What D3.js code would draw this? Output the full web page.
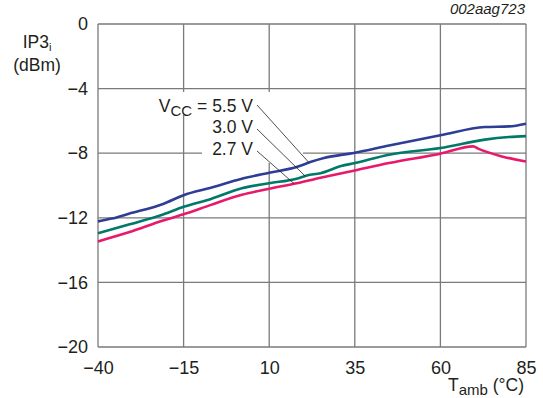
<!DOCTYPE html>
<html><head><meta charset="utf-8">
<script src="https://cdn.jsdelivr.net/npm/d3@7"></script>
<style>
body{margin:0;background:#fff}
text{font-family:"Liberation Sans",Arial,Helvetica,sans-serif;fill:#231f20}
</style>
</head><body>
<svg id="chart" width="543" height="398"></svg>
<script>
// Axis ticks
const xTicks = [-40, -15, 10, 35, 60, 85];
const yTicks = [0, -4, -8, -12, -16, -20];

// IP3i versus ambient temperature for three supply voltages
const temp55 = [-40, -36, -31, -21, -15, -7, 2, 10, 18, 22, 26, 35, 45, 60, 73, 80, 85];
const ip55   = [-12.22, -12.05, -11.75, -11.14, -10.6, -10.14, -9.58, -9.21, -8.86, -8.55, -8.30, -7.97, -7.52, -6.89, -6.38, -6.34, -6.17];

const temp30 = [-40, -31, -21, -15, -7, 2, 10, 18, 21, 25, 31, 35, 45, 60, 73, 80, 85];
const ip30   = [-12.96, -12.42, -11.80, -11.32, -10.83, -10.17, -9.86, -9.58, -9.38, -9.24, -8.80, -8.61, -8.09, -7.68, -7.16, -7.00, -6.94];

const temp27 = [-40, -31, -21, -15, -7, 2, 10, 18, 26, 35, 45, 60, 69.6, 71, 78, 85];
const ip27   = [-13.46, -12.90, -12.17, -11.78, -11.20, -10.58, -10.20, -9.86, -9.48, -9.07, -8.61, -8.03, -7.58, -7.72, -8.20, -8.51];

const seriesLabels = ["5.5 V", "3.0 V", "2.7 V"];
const seriesColors = ["#2e3d96", "#00796b", "#e8196b"];
// temperature where each label's leader line meets its curve
const leaderTemps = [21.6, 20.5, 17.3];

const series = [
  {temps: temp55, vals: ip55},
  {temps: temp30, vals: ip30},
  {temps: temp27, vals: ip27}
].map((s, i) => ({
  label: seriesLabels[i],
  color: seriesColors[i],
  leaderT: leaderTemps[i],
  points: s.temps.map((t, j) => [t, s.vals[j]])
}));

const svg = d3.select("#chart");
const plotL = 98, plotR = 526, plotT = 24, plotB = 347;
const fontMain = 17.5, fontSub = 15;

const x = d3.scaleLinear().domain([-40, 85]).range([plotL, plotR]);
const y = d3.scaleLinear().domain([-20, 0]).range([plotB, plotT]);

const gridColor = "#7a7a7a";

// grid
const grid = svg.append("g");
grid.selectAll("line.v").data(xTicks).join("line").attr("class", "v")
  .attr("x1", d => x(d)).attr("x2", d => x(d))
  .attr("y1", plotT).attr("y2", plotB)
  .attr("stroke", gridColor).attr("stroke-width", 1.3);
grid.selectAll("line.h").data(yTicks).join("line").attr("class", "h")
  .attr("x1", plotL).attr("x2", plotR)
  .attr("y1", d => y(d)).attr("y2", d => y(d))
  .attr("stroke", gridColor).attr("stroke-width", 1.3);

// axes (labels only, frame is the grid)
const fmt = d => d < 0 ? "\u2212" + Math.abs(d) : d;
const xAxis = d3.axisBottom(x).tickValues(xTicks).tickSize(0).tickPadding(14).tickFormat(fmt);
svg.append("g").attr("transform", `translate(0,${plotB})`).call(xAxis)
  .call(g => g.select(".domain").remove())
  .call(g => g.selectAll("text").attr("font-size", 18).attr("fill", "#231f20"))
  .attr("font-family", null).attr("font-size", null);

const yAxis = d3.axisLeft(y).tickValues(yTicks).tickSize(0).tickPadding(10).tickFormat(fmt);
svg.append("g").attr("transform", `translate(${plotL},0)`).call(yAxis)
  .call(g => g.select(".domain").remove())
  .call(g => g.selectAll("text").attr("font-size", 18).attr("fill", "#231f20"))
  .attr("font-family", null).attr("font-size", null);

// white backing behind the curve labels
const labelRight = 253;
svg.append("rect").attr("x", 150).attr("y", 92).attr("width", 303 - 150).attr("height", 23).attr("fill", "#fff");
svg.append("rect").attr("x", 202).attr("y", 115).attr("width", 303 - 202).attr("height", 48).attr("fill", "#fff");

// curves
const line = d3.line().x(d => x(d[0])).y(d => y(d[1])).curve(d3.curveMonotoneX);
svg.append("g").selectAll("path").data(series).join("path")
  .attr("d", d => line(d.points))
  .attr("fill", "none")
  .attr("stroke", d => d.color)
  .attr("stroke-width", 2.6)
  .attr("stroke-linejoin", "round");

// labels and leader lines
const labelBaselines = [111.7, 133.3, 155];
const leaderStarts = [[257, 105], [257, 129], [257, 151]];
function valueAt(pts, t) {
  const i = d3.bisector(d => d[0]).left(pts, t);
  const a = pts[Math.max(0, i - 1)], b = pts[Math.min(pts.length - 1, i)];
  if (a[0] === b[0]) return a[1];
  return a[1] + (b[1] - a[1]) * (t - a[0]) / (b[0] - a[0]);
}
series.forEach((s, i) => {
  const t = svg.append("text").attr("x", labelRight).attr("y", labelBaselines[i])
    .attr("text-anchor", "end").attr("font-size", fontMain);
  if (i === 0) {
    t.append("tspan").text("V");
    t.append("tspan").attr("font-size", fontSub).attr("dy", 4).text("CC");
    t.append("tspan").attr("dy", -4).text(" = " + s.label);
  } else {
    t.text(s.label);
  }
  svg.append("line")
    .attr("x1", leaderStarts[i][0]).attr("y1", leaderStarts[i][1])
    .attr("x2", x(s.leaderT)).attr("y2", y(valueAt(s.points, s.leaderT)))
    .attr("stroke", "#231f20").attr("stroke-width", 0.8);
});

// axis titles
const yt = svg.append("text").attr("x", 37).attr("y", 48).attr("text-anchor", "middle").attr("font-size", fontMain);
yt.append("tspan").text("IP3");
yt.append("tspan").attr("font-size", 11).attr("dy", 3).text("i");
svg.append("text").attr("x", 37).attr("y", 71).attr("text-anchor", "middle").attr("font-size", fontMain).text("(dBm)");

const xt = svg.append("text").attr("x", 524).attr("y", 391).attr("text-anchor", "end").attr("font-size", fontMain);
xt.append("tspan").text("T");
xt.append("tspan").attr("font-size", fontSub).attr("dy", 4).text("amb");
xt.append("tspan").attr("dy", -4).text(" (\u00B0C)");

svg.append("text").attr("x", 525).attr("y", 14).attr("text-anchor", "end")
  .attr("font-size", 15).attr("font-style", "italic").text("002aag723");
</script>
</body></html>
